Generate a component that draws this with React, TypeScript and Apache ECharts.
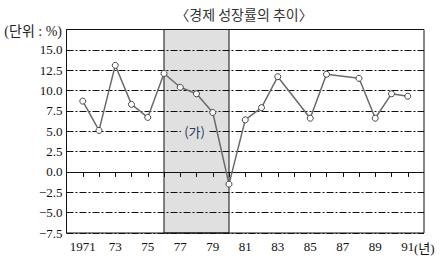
import React, { useEffect, useRef } from "react";
import * as echarts from "echarts";

const years = [1971, 1972, 1973, 1974, 1975, 1976, 1977, 1978, 1979, 1980, 1981, 1982, 1983, 1985, 1986, 1988, 1989, 1990, 1991];
const growth = [8.7, 5.1, 13.1, 8.3, 6.7, 12.1, 10.4, 9.6, 7.3, -1.5, 6.4, 7.9, 11.7, 6.6, 12.0, 11.5, 6.6, 9.6, 9.3];
const tickYears = [1971, 1972, 1973, 1974, 1975, 1976, 1977, 1978, 1979, 1980, 1981, 1982, 1983, 1984, 1985, 1986, 1987, 1988, 1989, 1990, 1991];
const labelYears = [1971, 1973, 1975, 1977, 1979, 1981, 1983, 1985, 1987, 1989, 1991];
const labelTexts = ["1971", "73", "75", "77", "79", "81", "83", "85", "87", "89", "91"];
const xUnitText = "(년)";
const shadeRange = [1976, 1980];
const shadeLabel = "(가)";
const titleText = "〈경제 성장률의 추이〉";
const unitText = "(단위 : %)";

const SERIF = "'Liberation Serif', 'DejaVu Serif', 'Noto Sans CJK KR', serif";
const SANS = "'Noto Sans CJK KR', 'Noto Sans', sans-serif";

export default function App() {
  const ref = useRef<HTMLDivElement>(null);
  useEffect(() => {
    if (!ref.current) return;
    const chart = echarts.init(ref.current, undefined, { renderer: "svg" });
    const dash = [7, 2, 2, 2];
    chart.setOption({
      animation: false,
      backgroundColor: "#ffffff",
      grid: {
        left: 66.5,
        right: 21,
        top: 29.5,
        bottom: 28,
        show: true,
        borderColor: "#111",
        borderWidth: 1,
        backgroundColor: "transparent",
      },
      graphic: [
        {
          type: "text",
          x: 244,
          y: 14,
          style: {
            text: titleText,
            textAlign: "center",
            textVerticalAlign: "middle",
            font: `14px ${SANS}`,
            fill: "#333",
          },
        },
        {
          type: "text",
          x: 62,
          y: 31,
          style: {
            text: unitText,
            textAlign: "right",
            textVerticalAlign: "middle",
            font: `14px ${SERIF}`,
            fill: "#222",
          },
        },
        {
          type: "text",
          x: 414,
          y: 248,
          style: {
            text: xUnitText,
            textAlign: "left",
            textVerticalAlign: "middle",
            font: `13px ${SERIF}`,
            fill: "#111",
          },
        },
      ],
      xAxis: {
        type: "value",
        min: 1970,
        max: 1992,
        interval: 1,
        axisLine: { show: false },
        axisTick: {
          show: true,
          length: 5,
          customValues: tickYears,
          lineStyle: { color: "#111", width: 1 },
        },
        axisLabel: {
          customValues: labelYears,
          margin: 7,
          fontFamily: SERIF,
          fontSize: 13,
          color: "#111",
          formatter: (v: number) => {
            const i = labelYears.indexOf(Math.round(v));
            return i >= 0 ? labelTexts[i] : "";
          },
        },
        splitLine: { show: false },
      },
      yAxis: {
        type: "value",
        min: -7.5,
        max: 17.5,
        interval: 2.5,
        axisLine: { show: false },
        axisTick: { show: false },
        axisLabel: {
          margin: 4,
          fontFamily: SERIF,
          fontSize: 13,
          color: "#111",
          formatter: (v: number) => {
            if (v > 15.01) return "";
            if (v < 0) return "\u2212" + Math.abs(v).toFixed(1);
            return v.toFixed(1);
          },
        },
        splitLine: {
          show: true,
          lineStyle: { color: "#111", width: 1, type: dash },
        },
      },
      series: [
        {
          type: "line",
          data: years.map((y, i) => [y, growth[i]]),
          symbol: "circle",
          symbolSize: 6,
          lineStyle: { color: "#6a6a6a", width: 1.5 },
          itemStyle: { color: "#ffffff", borderColor: "#444", borderWidth: 1 },
          z: 5,
          markArea: {
            silent: true,
            itemStyle: {
              color: "rgba(0,0,0,0.12)",
              borderColor: "#111",
              borderWidth: 1,
            },
            label: {
              show: true,
              position: "inside",
              offset: [-2, 0],
              formatter: shadeLabel,
              fontFamily: SANS,
              fontSize: 13,
              color: "#2a3a5a",
              backgroundColor: "#e0e0e0",
              padding: [0, 3],
            },
            data: [[{ xAxis: shadeRange[0] }, { xAxis: shadeRange[1] }]],
          },
          markLine: {
            silent: true,
            symbol: "none",
            label: { show: false },
            lineStyle: { color: "#111", width: 1.2, type: "solid" },
            data: [{ yAxis: 0 }],
          },
        },
      ],
    });
    return () => chart.dispose();
  }, []);
  return (
    <div
      ref={ref}
      style={{ position: "fixed", left: 0, top: 0, width: 445, height: 261 }}
    />
  );
}
